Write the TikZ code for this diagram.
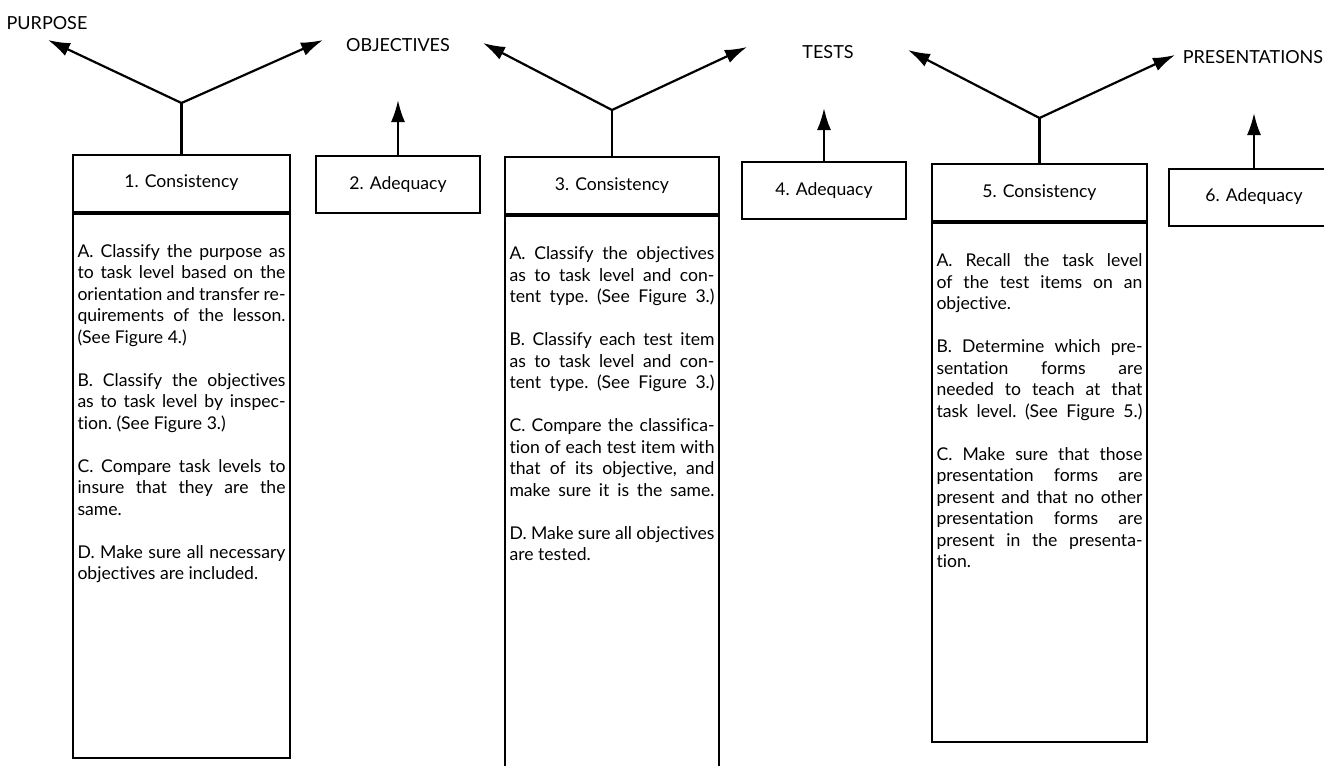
\documentclass[tikz,border=0pt]{standalone}
\usepackage{fontspec}
\setmainfont{Lato}[Ligatures=NoCommon]
\usetikzlibrary{arrows.meta}
\hbadness=10000
\hfuzz=10pt
\newcommand\boxfont{\fontsize{8.8}{10.75}\selectfont\frenchspacing}
\newcommand\jline[1]{\hbox to\linewidth{#1}}
\newcommand\eline[1]{\hbox to\linewidth{#1\hfil}}
\newcommand\gap{\vskip\baselineskip}

\begin{document}
\begin{tikzpicture}
		[x=0.5pt, y=-0.5pt,
		head/.style ={draw, line width=1pt, minimum height=28.5pt, inner sep=0pt, font=\fontsize{8.8}{10}\selectfont},
		body/.style ={draw, line width=1pt, anchor=north, inner xsep=2.25pt, inner ysep=0pt},
		stage/.style ={font=\fontsize{9}{10}\selectfont},
		link/.style ={line width=1.1pt},
		arr/.style ={line width=1.1pt, -{Latex[length=11pt, width=7pt]}}]
		\clip (0,0) rectangle (1324,766);

		% stages along the top
		\node[stage] (purpose) at (47,23) {PURPOSE};
		\node[stage] (objectives) at (398,45) {OBJECTIVES};
		\node[stage] (tests) at (828,52) {TESTS};
		\node[stage] (presentations) at (1253,57) {PRESENTATIONS};

		% adequacy checks
		\node[head, minimum width=82pt] (a2) at (398,184.5) {2. Adequacy};
		\node[head, minimum width=82pt] (a4) at (824,190.5) {4. Adequacy};
		\node[head, minimum width=85pt] (a6) at (1254,197) {6. Adequacy};
		\coordinate (a2t) at (398,100);
		\coordinate (a4t) at (824,108);
		\coordinate (a6t) at (1254,113);
		\draw[arr] (a2.north) -- (a2t);
		\draw[arr] (a4.north) -- (a4t);
		\draw[arr] (a6.north) -- (a6t);

		% consistency checks
		\node[head, minimum width=108.5pt] (c1) at (181.5,183) {1. Consistency};
		\node[body] (c1b) at (c1.south) {\parbox[t][272pt][t]{104pt}{\boxfont\vspace*{15.5pt}%
			\jline{A. Classify the purpose as}
			\jline{to task level based on the}
			\jline{orientation and transfer re-}
			\jline{quirements of the lesson.}
			\eline{(See Figure 4.)}\gap
			\jline{B. Classify the objectives}
			\jline{as to task level by inspec-}
			\eline{tion. (See Figure 3.)}\gap
			\jline{C. Compare task levels to}
			\jline{insure that they are the}
			\eline{same.}\gap
			\jline{D. Make sure all necessary}
			\eline{objectives are included.}}};

		\node[head, minimum width=107pt] (c3) at (612,185.5) {3. Consistency};
		\node[body] (c3b) at (c3.south) {\parbox[t][290pt][t]{102.5pt}{\boxfont\vspace*{15.5pt}%
			\jline{A. Classify the objectives}
			\jline{as to task level and con-}
			\jline{tent type. (See Figure 3.)}\gap
			\jline{B. Classify each test item}
			\jline{as to task level and con-}
			\jline{tent type. (See Figure 3.)}\gap
			\jline{C. Compare the classifica-}
			\jline{tion of each test item with}
			\jline{that of its objective, and}
			\jline{make sure it is the same.}\gap
			\jline{D. Make sure all objectives}
			\eline{are tested.}}};

		\node[head, minimum width=107.5pt] (c5) at (1039.5,192.5) {5. Consistency};
		\node[body] (c5b) at (c5.south) {\parbox[t][259.5pt][t]{103pt}{\boxfont\vspace*{15.5pt}%
			\jline{A. Recall the task level}
			\jline{of the test items on an}
			\eline{objective.}\gap
			\jline{B. Determine which pre-}
			\jline{sentation forms are}
			\jline{needed to teach at that}
			\jline{task level. (See Figure 5.)}\gap
			\jline{C. Make sure that those}
			\jline{presentation forms are}
			\jline{present and that no other}
			\jline{presentation forms are}
			\jline{present in the presenta-}
			\eline{tion.}}};

		% forks from each consistency check
		\coordinate (j1) at (181.5,103);
		\coordinate (p1l) at (48,40);
		\coordinate (p1r) at (323,40);
		\draw[link] (c1.north) -- (j1);
		\draw[arr] (j1) -- (p1l);
		\draw[arr] (j1) -- (p1r);

		\coordinate (j3) at (612,110);
		\coordinate (p3l) at (483,43);
		\coordinate (p3r) at (747,47);
		\draw[link] (c3.north) -- (j3);
		\draw[arr] (j3) -- (p3l);
		\draw[arr] (j3) -- (p3r);

		\coordinate (j5) at (1039.5,118);
		\coordinate (p5l) at (908,50);
		\coordinate (p5r) at (1175,55);
		\draw[link] (c5.north) -- (j5);
		\draw[arr] (j5) -- (p5l);
		\draw[arr] (j5) -- (p5r);

	\end{tikzpicture}
\end{document}
